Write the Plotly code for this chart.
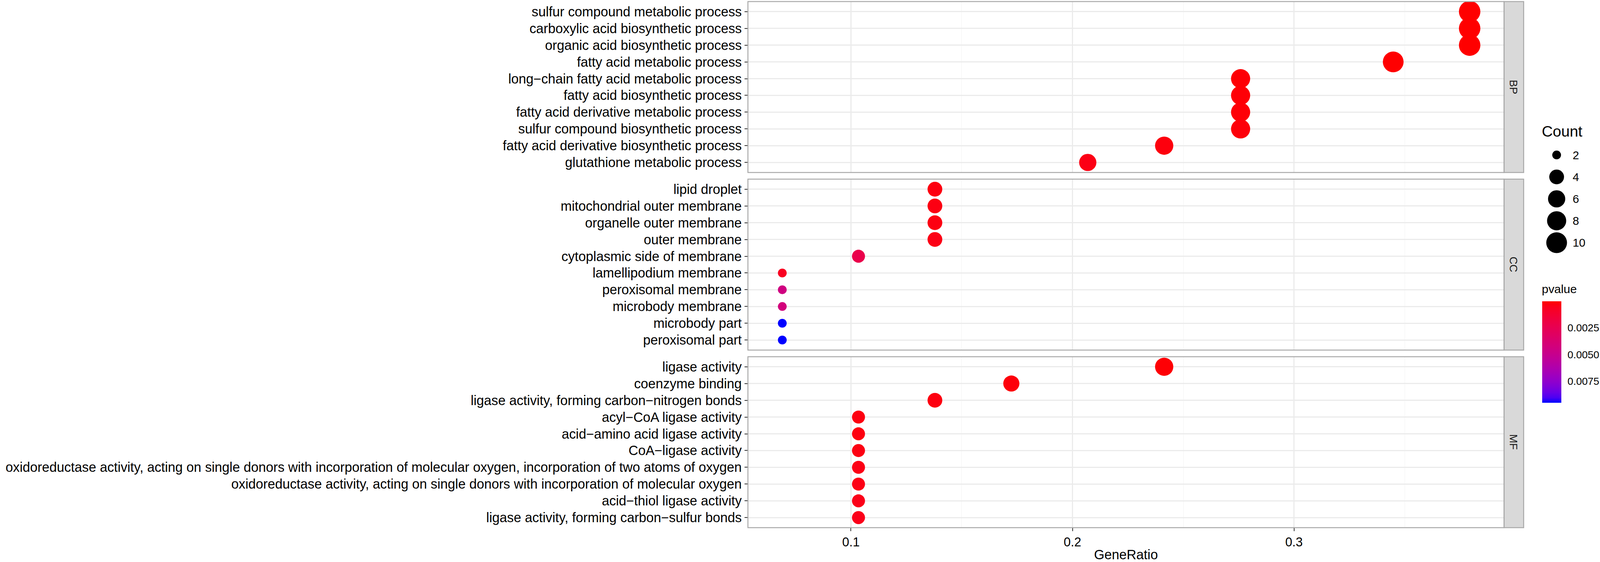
import numpy as np
import plotly.graph_objects as go

# Reference geometry is 4317x1440; the viewport actually available is 4096 wide,
# so horizontal positions are kept as fractions of the width.
W0, H0 = 4317, 1440
W, H = 4096, 1440
SX = W / W0          # horizontal compression
FS = 0.95            # font scale so the long labels fit like the reference
FONT = "Liberation Sans, Arial, sans-serif"

# ---------------- data ----------------
bp_terms = ["sulfur compound metabolic process", "carboxylic acid biosynthetic process",
            "organic acid biosynthetic process", "fatty acid metabolic process",
            "long\u2212chain fatty acid metabolic process", "fatty acid biosynthetic process",
            "fatty acid derivative metabolic process", "sulfur compound biosynthetic process",
            "fatty acid derivative biosynthetic process", "glutathione metabolic process"]
bp_ratio = [0.3793, 0.3793, 0.3793, 0.3448, 0.2759, 0.2759, 0.2759, 0.2759, 0.2414, 0.2069]
bp_count = [11, 11, 11, 10, 8, 8, 8, 8, 7, 6]
bp_p = [0.000015, 0.00002, 0.00002, 0.00003, 0.0001, 0.00012, 0.00015, 0.0002, 0.00025, 0.0004]

cc_terms = ["lipid droplet", "mitochondrial outer membrane", "organelle outer membrane",
            "outer membrane", "cytoplasmic side of membrane", "lamellipodium membrane",
            "peroxisomal membrane", "microbody membrane", "microbody part", "peroxisomal part"]
cc_ratio = [0.1379, 0.1379, 0.1379, 0.1379, 0.1034, 0.0690, 0.0690, 0.0690, 0.0690, 0.0690]
cc_count = [4, 4, 4, 4, 3, 2, 2, 2, 2, 2]
cc_p = [0.0003, 0.00035, 0.00035, 0.0004, 0.0022, 0.0007, 0.0044, 0.0042, 0.0095, 0.0095]

mf_terms = ["ligase activity", "coenzyme binding", "ligase activity, forming carbon\u2212nitrogen bonds",
            "acyl\u2212CoA ligase activity", "acid\u2212amino acid ligase activity", "CoA\u2212ligase activity",
            "oxidoreductase activity, acting on single donors with incorporation of molecular oxygen, incorporation of two atoms of oxygen",
            "oxidoreductase activity, acting on single donors with incorporation of molecular oxygen",
            "acid\u2212thiol ligase activity", "ligase activity, forming carbon\u2212sulfur bonds"]
mf_ratio = [0.2414, 0.1724, 0.1379, 0.1034, 0.1034, 0.1034, 0.1034, 0.1034, 0.1034, 0.1034]
mf_count = [7, 5, 4, 3, 3, 3, 3, 3, 3, 3]
mf_p = [0.0001, 0.0002, 0.0003, 0.0003, 0.0003, 0.00035, 0.0004, 0.0004, 0.00045, 0.0005]

facets = ["BP", "CC", "MF"]
count_breaks = [2, 4, 6, 8, 10]
p_breaks = [0.0025, 0.0050, 0.0075]
p_labels = ["0.0025", "0.0050", "0.0075"]
x_breaks = [0.1, 0.2, 0.3]
x_labels = ["0.1", "0.2", "0.3"]


def fs(v):
    return v * FS


# ---------------- scales ----------------
SIZE_MIN, SIZE_MAX = 22.5, 55.0
all_counts = bp_count + cc_count + mf_count
cmin_c, cmax_c = min(all_counts), max(all_counts)


def size_of(c):
    c = np.asarray(c, dtype=float)
    return SIZE_MIN + (SIZE_MAX - SIZE_MIN) * np.sqrt((c - cmin_c) / (cmax_c - cmin_c))


def srgb_to_lab(rgb):
    c = np.array(rgb, dtype=float) / 255.0
    c = np.where(c <= 0.04045, c / 12.92, ((c + 0.055) / 1.055) ** 2.4)
    M = np.array([[0.4124564, 0.3575761, 0.1804375],
                  [0.2126729, 0.7151522, 0.0721750],
                  [0.0193339, 0.1191920, 0.9503041]])
    xyz = M @ c
    wp = np.array([0.95047, 1.0, 1.08883])
    t = xyz / wp
    f = np.where(t > (6 / 29) ** 3, np.cbrt(t), t / (3 * (6 / 29) ** 2) + 4 / 29)
    return np.array([116 * f[1] - 16, 500 * (f[0] - f[1]), 200 * (f[1] - f[2])])


def lab_to_srgb(lab):
    L, a, b = lab
    fy_ = (L + 16) / 116
    fx_ = fy_ + a / 500
    fz_ = fy_ - b / 200

    def finv(f):
        return f ** 3 if f > 6 / 29 else 3 * (6 / 29) ** 2 * (f - 4 / 29)
    wp = np.array([0.95047, 1.0, 1.08883])
    xyz = np.array([finv(fx_), finv(fy_), finv(fz_)]) * wp
    Minv = np.array([[3.2404542, -1.5371385, -0.4985314],
                     [-0.9692660, 1.8760108, 0.0415560],
                     [0.0556434, -0.2040259, 1.0572252]])
    c = np.clip(Minv @ xyz, 0, 1)
    c = np.where(c <= 0.0031308, 12.92 * c, 1.055 * c ** (1 / 2.4) - 0.055)
    c = np.clip(np.round(c * 255), 0, 255).astype(int)
    return "rgb(%d,%d,%d)" % tuple(c)


# red = low p, blue = high p (Lab interpolation, like ggplot's gradient).
# The colour bar is drawn reversed (low p at the top), so colours are mapped on -p.
lab_lo = srgb_to_lab([255, 0, 0])
lab_hi = srgb_to_lab([0, 0, 255])
colorscale = [[t, lab_to_srgb(lab_hi + (lab_lo - lab_hi) * t)] for t in np.linspace(0, 1, 21)]

all_p = bp_p + cc_p + mf_p
pmin, pmax = min(all_p), max(all_p)

all_ratio = bp_ratio + cc_ratio + mf_ratio
rmin, rmax = min(all_ratio), max(all_ratio)
xr = [rmin - 0.05 * (rmax - rmin), rmax + 0.05 * (rmax - rmin)]

# ---------------- geometry (reference pixels) ----------------
PX0, PX1 = 2018, 4058
STRIP_W = 53
panels_px = [(4, 442), (459, 897), (914, 1352)]


def fy(v):
    return 1 - v / H0


def fx(v):
    return v / W0


fig = go.Figure()
data = [(bp_terms, bp_ratio, bp_count, bp_p), (cc_terms, cc_ratio, cc_count, cc_p),
        (mf_terms, mf_ratio, mf_count, mf_p)]

layout = dict(
    width=W, height=H, template="none",
    margin=dict(l=0, r=0, t=0, b=0, pad=0),
    paper_bgcolor="white", plot_bgcolor="white",
    font=dict(family=FONT, color="black"),
    showlegend=False,
)

GRID = "#ebebeb"
BORDER = "#a9a9a9"
shapes = []
annotations = []

for i, (terms, ratio, cnt, pv) in enumerate(data):
    sfx = "" if i == 0 else str(i + 1)
    fig.add_trace(go.Scatter(
        x=ratio, y=terms, mode="markers",
        xaxis="x" + sfx, yaxis="y" + sfx,
        marker=dict(size=size_of(cnt), sizemode="diameter", color=[-p for p in pv],
                    coloraxis="coloraxis", line=dict(width=0), opacity=1),
        customdata=pv, hovertemplate="%{y}<br>GeneRatio=%{x}<br>pvalue=%{customdata}<extra></extra>",
    ))
    top, bot = panels_px[i]
    bottom = (i == 2)
    layout["xaxis" + sfx] = dict(
        domain=[fx(PX0), fx(PX1)], anchor="y" + sfx, range=xr,
        tickmode="array", tickvals=x_breaks, ticktext=x_labels,
        showticklabels=bottom, ticks="outside" if bottom else "",
        ticklen=8, tickwidth=2, tickcolor="#333333",
        tickfont=dict(size=fs(34), color="#000000", family=FONT),
        showgrid=True, gridcolor=GRID, gridwidth=2.5,
        minor=dict(showgrid=True, gridcolor="#f2f2f2", gridwidth=1.2, tick0=0.05, dtick=0.1),
        zeroline=False, showline=False, automargin=False,
        title=dict(text="GeneRatio" if bottom else "", font=dict(size=fs(36), family=FONT, color="black"),
                   standoff=6),
    )
    layout["yaxis" + sfx] = dict(
        domain=[fy(bot), fy(top)], anchor="x" + sfx, type="category",
        categoryorder="array", categoryarray=terms, range=[len(terms) - 0.4, -0.6],
        tickmode="array", tickvals=terms, ticktext=terms,
        ticks="outside", ticklen=8, tickwidth=2, tickcolor="#333333",
        tickfont=dict(size=fs(36), color="#000000", family=FONT),
        showgrid=True, gridcolor=GRID, gridwidth=2.5,
        zeroline=False, showline=False, automargin=False,
    )
    shapes.append(dict(type="rect", xref="paper", yref="paper",
                       x0=fx(PX0), x1=fx(PX1), y0=fy(bot), y1=fy(top),
                       line=dict(color=BORDER, width=2.5), fillcolor="rgba(0,0,0,0)", layer="above"))
    shapes.append(dict(type="rect", xref="paper", yref="paper",
                       x0=fx(PX1), x1=fx(PX1 + STRIP_W), y0=fy(bot), y1=fy(top),
                       line=dict(color=BORDER, width=2.5), fillcolor="#d9d9d9", layer="below"))
    annotations.append(dict(xref="paper", yref="paper", x=fx(PX1 + STRIP_W / 2), y=fy((top + bot) / 2),
                            text=facets[i], textangle=90, showarrow=False,
                            font=dict(size=fs(29), color="#1a1a1a", family=FONT),
                            xanchor="center", yanchor="middle"))

# ---------------- Count legend ----------------
LEG_X0, LEG_X1 = 4170, 4230
leg_top, leg_bot = 369, 650
fig.add_trace(go.Scatter(
    x=["key"] * len(count_breaks), y=[str(v) for v in count_breaks], mode="markers",
    xaxis="x4", yaxis="y4",
    marker=dict(size=size_of(count_breaks), sizemode="diameter", color="#000000",
                opacity=1, line=dict(width=0)),
    hoverinfo="skip", cliponaxis=False,
))
layout["xaxis4"] = dict(domain=[fx(LEG_X0), fx(LEG_X1)], anchor="y4", type="category",
                        range=[-0.5, 0.5], visible=False, automargin=False)
layout["yaxis4"] = dict(domain=[fy(leg_bot), fy(leg_top)], anchor="x4", type="category",
                        categoryorder="array", categoryarray=[str(v) for v in count_breaks],
                        range=[len(count_breaks) - 0.5, -0.5], visible=False, automargin=False)
for j, v in enumerate(count_breaks):
    annotations.append(dict(xref="paper", yref="y4", x=fx(4241), y=j, text=str(v),
                            showarrow=False, xanchor="left", yanchor="middle",
                            font=dict(size=fs(31), color="#000000", family=FONT)))
annotations.append(dict(xref="paper", yref="paper", x=fx(4158), y=fy(337), text="Count",
                        showarrow=False, xanchor="left", yanchor="middle",
                        font=dict(size=fs(41), color="#000000", family=FONT)))
annotations.append(dict(xref="paper", yref="paper", x=fx(4158), y=fy(740), text="pvalue",
                        showarrow=False, xanchor="left", yanchor="middle",
                        font=dict(size=fs(32), color="#000000", family=FONT)))

layout["coloraxis"] = dict(
    colorscale=colorscale, cmin=-pmax, cmax=-pmin,
    colorbar=dict(
        x=fx(4161), xanchor="left", y=fy(772), yanchor="top",
        len=260, lenmode="pixels", thickness=52 * SX, thicknessmode="pixels",
        xpad=0, ypad=0, outlinewidth=0,
        tickvals=[-b for b in p_breaks], ticktext=p_labels,
        ticks="outside", ticklen=11, tickcolor="rgba(0,0,0,0)",
        tickfont=dict(size=fs(28), color="#000000", family=FONT),
        title=dict(text=""),
    ),
)

layout["shapes"] = shapes
layout["annotations"] = annotations
fig.update_layout(**layout)

post = ("var gd=document.getElementById('{plot_id}');"
        "document.body.style.margin='0';"
        "document.documentElement.style.overflow='hidden';"
        "var w=window.innerWidth;"
        "if(w>0 && Math.abs(w-gd.layout.width)>1){Plotly.relayout(gd,{width:w});}")
fig.write_html("out.html", post_script=post, config={"displayModeBar": False})
